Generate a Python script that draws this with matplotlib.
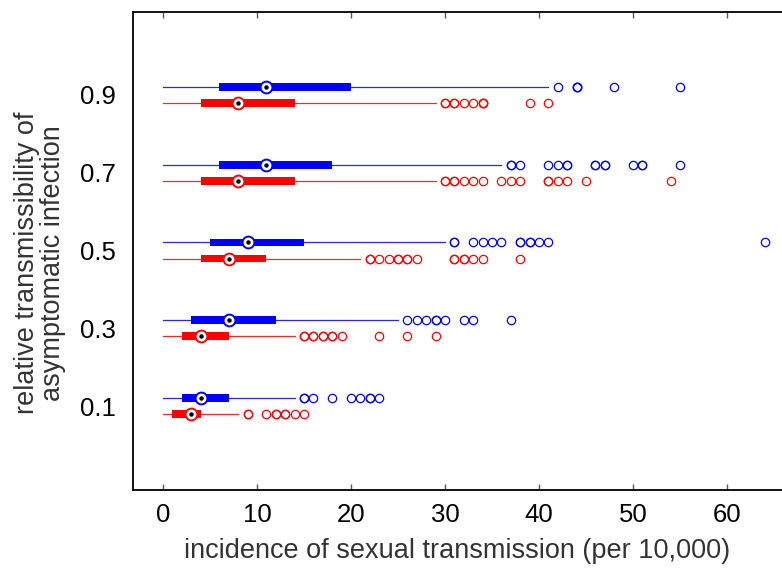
import matplotlib
matplotlib.use("Agg")
import matplotlib.pyplot as plt

plt.rcParams['font.family'] = ['Liberation Sans', 'DejaVu Sans']

# relative transmissibility levels (bottom to top)
levels = ['0.1', '0.3', '0.5', '0.7', '0.9']

# blue series: box statistics per level
blue_whislo = [0, 0, 0, 0, 0]
blue_q1 = [2, 3, 5, 6, 6]
blue_med = [4, 7, 9, 11, 11]
blue_q3 = [7, 12, 15, 18, 20]
blue_whishi = [14, 25, 30, 36, 41]
blue_fliers = [
    [15, 15, 16, 18, 20, 21, 22, 22, 23],
    [26, 27, 28, 29, 29, 30, 32, 33, 37],
    [31, 31, 33, 34, 35, 36, 38, 38, 39, 39, 40, 41, 64],
    [37, 37, 38, 41, 42, 43, 43, 46, 46, 47, 47, 50, 51, 51, 55],
    [42, 44, 44, 44, 48, 55],
]

# red series: box statistics per level
red_whislo = [0, 0, 0, 0, 0]
red_q1 = [1, 2, 4, 4, 4]
red_med = [3, 4, 7, 8, 8]
red_q3 = [4, 7, 11, 14, 14]
red_whishi = [8, 14, 21, 29, 29]
red_fliers = [
    [9, 9, 11, 12, 12, 13, 13, 14, 15],
    [15, 15, 16, 16, 17, 17, 18, 18, 19, 23, 26, 29],
    [22, 22, 23, 24, 25, 25, 26, 26, 27, 31, 31, 32, 32, 33, 34, 38],
    [30, 30, 31, 31, 32, 33, 34, 36, 37, 38, 41, 41, 42, 43, 45, 54],
    [30, 30, 31, 31, 32, 33, 34, 34, 34, 39, 41],
]

xticks = [0, 10, 20, 30, 40, 50, 60]


def make_stats(lo, q1, med, q3, hi, fl):
    return [dict(whislo=a, q1=b, med=c, q3=d, whishi=e, fliers=f)
            for a, b, c, d, e, f in zip(lo, q1, med, q3, hi, fl)]


fig = plt.figure(figsize=(7.82, 5.71), dpi=100)
ax = fig.add_axes([133 / 782, 81 / 571, 649 / 782, 478 / 571])

base = list(range(1, len(levels) + 1))
series = [
    ('blue', 0.103, make_stats(blue_whislo, blue_q1, blue_med, blue_q3, blue_whishi, blue_fliers), blue_med),
    ('red', -0.103, make_stats(red_whislo, red_q1, red_med, red_q3, red_whishi, red_fliers), red_med),
]

for color, off, stats, meds in series:
    pos = [b + off for b in base]
    ax.bxp(stats, positions=pos, widths=0.1, orientation='horizontal',
           patch_artist=True, showcaps=False,
           boxprops=dict(facecolor=color, edgecolor=color, linewidth=0),
           whiskerprops=dict(color=color, linewidth=0.9, alpha=0.85),
           medianprops=dict(linewidth=0),
           flierprops=dict(marker='o', markerfacecolor='none',
                           markeredgecolor=color, markersize=6,
                           markeredgewidth=0.9))
    ax.plot(meds, pos, 'o', mfc='white', mec=color, ms=8.5, mew=1.4, zorder=5)
    ax.plot(meds, pos, 'o', color='k', ms=2.2, zorder=6)

ax.set_xlim(-3.19, 65.85)
ax.set_ylim(-0.08, 6.067)
ax.set_xticks(xticks)
ax.set_yticks(base)
ax.set_yticklabels(levels)
ax.tick_params(axis='x', direction='in', top=True, bottom=True, length=4.5,
               width=1, color='0.35', labelsize=18.5, pad=9)
ax.tick_params(axis='y', length=0, labelsize=18.5, pad=12)
ax.spines['right'].set_visible(False)
for s in ['left', 'top', 'bottom']:
    ax.spines[s].set_linewidth(1.3)

ax.set_xlabel('incidence of sexual transmission (per 10,000)', fontsize=19.5,
              color='#333333', labelpad=8)
ax.set_ylabel('relative transmissibility of\nasymptomatic infection',
              fontsize=19.5, color='#333333', linespacing=1.0)
ax.yaxis.set_label_coords(-0.103, 0.475)

fig.savefig('out.png', dpi=100)
